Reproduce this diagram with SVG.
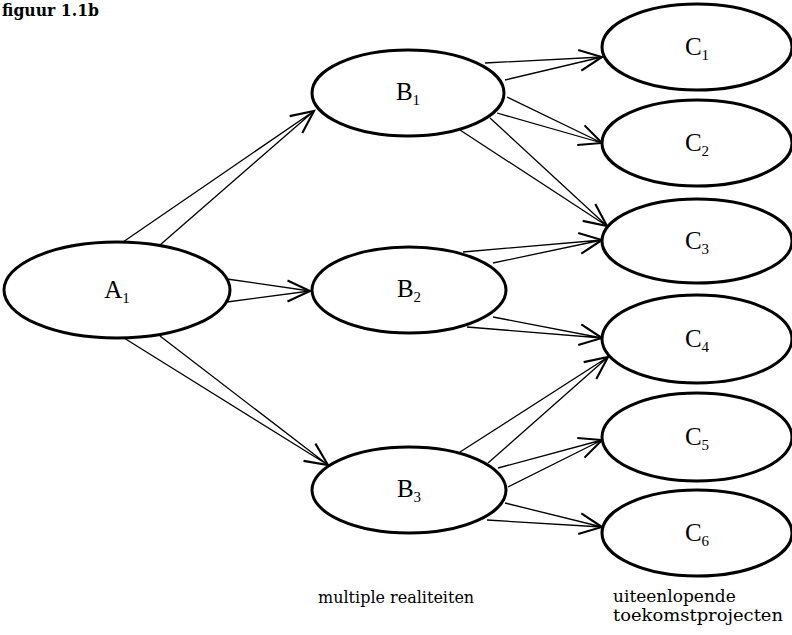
<svg xmlns="http://www.w3.org/2000/svg" width="792" height="635" viewBox="0 0 792 635">
<style>
.node{fill:#fff;stroke:#000;stroke-width:3}
.lbl{font-family:"Liberation Serif",serif;font-size:25px;text-anchor:middle;fill:#000}
.sub{font-size:15px}
.ln{stroke:#000;stroke-width:1.3;fill:none}
.tip{stroke:#000;stroke-width:1.3;fill:none;marker-end:url(#arr)}
.cap{font-family:"DejaVu Serif",serif;font-size:16px;fill:#000}
</style>
<defs>
<marker id="arr" markerUnits="userSpaceOnUse" markerWidth="30" markerHeight="30" refX="0" refY="0" viewBox="-16 -10 20 20" orient="auto">
<path d="M -15 -7 L 0 0 L -15 7" fill="none" stroke="#000" stroke-width="1.4"/>
</marker>
</defs>
<rect width="792" height="635" fill="#fff"/>
<text class="cap" x="2" y="16" style="font-size:16px;font-weight:600" textLength="97" lengthAdjust="spacingAndGlyphs">figuur 1.1b</text>

<g id="connectors">
<!-- A1 -> B1 -->
<path class="ln" d="M123 242 L314 111 M160 245 L314 111"/>
<path class="tip" d="M312.4 112.2 L314 111"/>
<!-- A1 -> B2 -->
<path class="ln" d="M227 279 L310 291 M227 302 L310 291"/>
<path class="tip" d="M308 291 L310 291"/>
<!-- A1 -> B3 -->
<path class="ln" d="M124 338 L328 465 M160 336 L328 465"/>
<path class="tip" d="M326.4 463.9 L328 465"/>
<!-- B1 -> C1 -->
<path class="ln" d="M485 63 L602 57 M505 80 L602 57"/>
<path class="tip" d="M600 57.3 L602 57"/>
<!-- B1 -> C2 -->
<path class="ln" d="M507 97 L602 143 M497 113 L602 143"/>
<path class="tip" d="M600.1 142.3 L602 143"/>
<!-- B1 -> C3 -->
<path class="ln" d="M490 118 L607 226 M460 130 L607 226"/>
<path class="tip" d="M605.4 224.8 L607 226"/>
<!-- B2 -> C3 -->
<path class="ln" d="M463 252 L602 240 M493 263 L602 240"/>
<path class="tip" d="M600 240.3 L602 240"/>
<!-- B2 -> C4 -->
<path class="ln" d="M493 317 L602 338 M467 327 L602 338"/>
<path class="tip" d="M600 337.7 L602 338"/>
<!-- B3 -> C4 -->
<path class="ln" d="M460 452 L608 357 M488 463 L608 357"/>
<path class="tip" d="M606.4 358.2 L608 357"/>
<!-- B3 -> C5 -->
<path class="ln" d="M498 468 L602 440 M508 487 L602 440"/>
<path class="tip" d="M600.1 440.7 L602 440"/>
<!-- B3 -> C6 -->
<path class="ln" d="M505 503 L602 527 M487 520 L602 527"/>
<path class="tip" d="M600 526.7 L602 527"/>
</g>

<g id="A1"><ellipse class="node" cx="117" cy="290" rx="113" ry="48"/><text class="lbl" x="117" y="298">A<tspan class="sub" dy="5">1</tspan></text></g>
<g id="B1"><ellipse class="node" cx="408" cy="93" rx="96" ry="43"/><text class="lbl" x="408" y="100">B<tspan class="sub" dy="5">1</tspan></text></g>
<g id="B2"><ellipse class="node" cx="409" cy="290" rx="97" ry="43"/><text class="lbl" x="409" y="297">B<tspan class="sub" dy="5">2</tspan></text></g>
<g id="B3"><ellipse class="node" cx="409" cy="490" rx="97" ry="43"/><text class="lbl" x="409" y="497">B<tspan class="sub" dy="5">3</tspan></text></g>
<g id="C1"><ellipse class="node" cx="697" cy="47" rx="95" ry="43"/><text class="lbl" x="697" y="55">C<tspan class="sub" dy="5">1</tspan></text></g>
<g id="C2"><ellipse class="node" cx="697" cy="143" rx="95" ry="43"/><text class="lbl" x="697" y="151">C<tspan class="sub" dy="5">2</tspan></text></g>
<g id="C3"><ellipse class="node" cx="697" cy="241" rx="95" ry="42"/><text class="lbl" x="697" y="249">C<tspan class="sub" dy="5">3</tspan></text></g>
<g id="C4"><ellipse class="node" cx="697" cy="339" rx="95" ry="44"/><text class="lbl" x="697" y="347">C<tspan class="sub" dy="5">4</tspan></text></g>
<g id="C5"><ellipse class="node" cx="697" cy="437" rx="95" ry="44"/><text class="lbl" x="697" y="445">C<tspan class="sub" dy="5">5</tspan></text></g>
<g id="C6"><ellipse class="node" cx="697" cy="533" rx="95" ry="43"/><text class="lbl" x="697" y="541">C<tspan class="sub" dy="5">6</tspan></text></g>

<text class="cap" x="318" y="603">multiple realiteiten</text>
<text class="cap" x="613" y="602" style="font-size:17px">uiteenlopende</text>
<text class="cap" x="613" y="621" style="font-size:17px" textLength="170" lengthAdjust="spacingAndGlyphs">toekomstprojecten</text>
</svg>
